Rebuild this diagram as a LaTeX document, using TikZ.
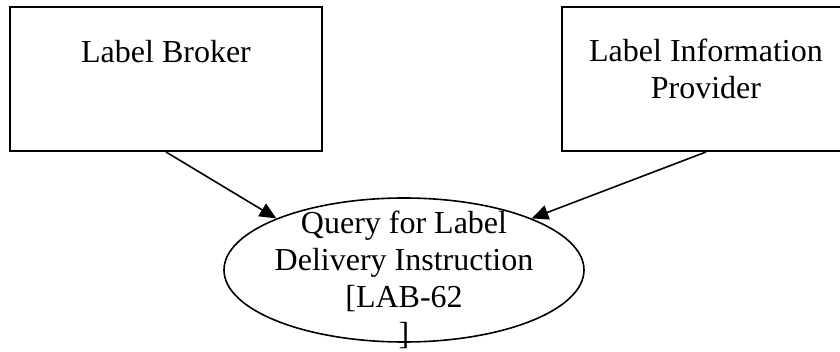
\documentclass[tikz,border=0pt]{standalone}
\usepackage{fontspec}
\setmainfont{Liberation Serif}
\usetikzlibrary{shapes.geometric,arrows.meta}
\begin{document}
\begin{tikzpicture}[x=0.75pt,y=-0.75pt,
  boxnode/.style={draw,line width=1.5pt,rectangle,minimum height=108pt,inner sep=0pt},
  usecase/.style={draw,line width=1.2pt,ellipse,minimum width=270pt,minimum height=108pt,inner sep=0pt},
  txt/.style={font=\fontsize{24}{27.75}\selectfont,align=center,inner sep=0pt},
  arr/.style={line width=1.2pt,-{Triangle[length=12.5pt,width=11pt]}}]
\useasboundingbox (0,0) rectangle (840,352);
\node[boxnode,minimum width=234pt] (b) at (166,79) {};
\node[boxnode,minimum width=216pt] (r) at (706,79) {};
\node[usecase] (q) at (404,270) {};
\node[txt,anchor=base] (bt) at (166,63) {Label Broker};
\node[txt,anchor=base] (rt) at (706,99) {Label Information\\Provider};
\node[txt,anchor=base] (qt) at (404,345) {Query for Label\\Delivery Instruction\\{[}LAB-62\\{]}};
\draw[arr] (b.south) -- (q.158);
\draw[arr] (r.south) -- (q.22);
\end{tikzpicture}
\end{document}
